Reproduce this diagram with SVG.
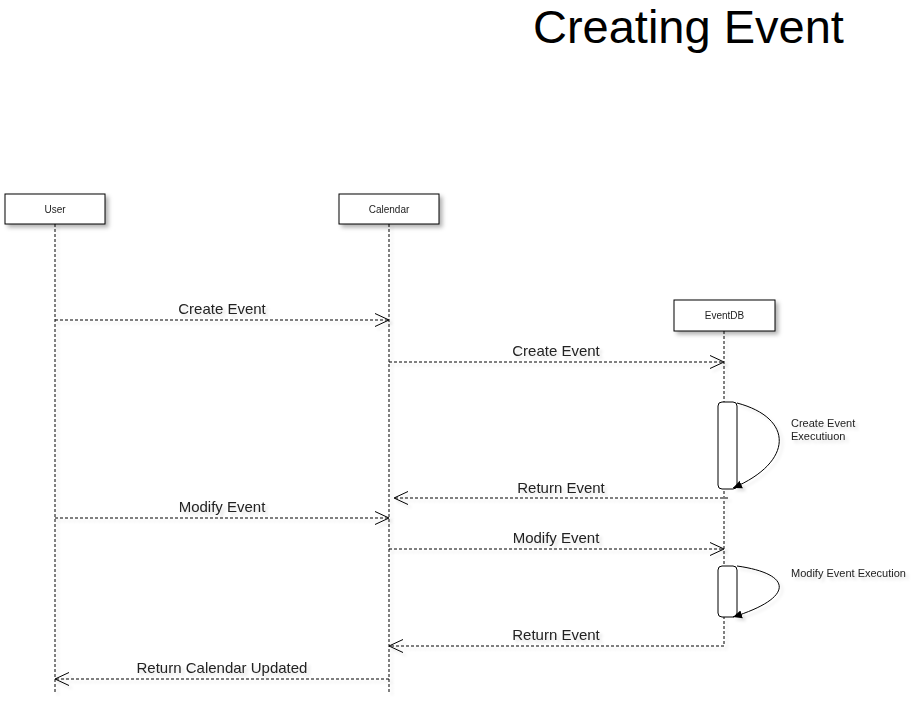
<svg xmlns="http://www.w3.org/2000/svg" width="912" height="702" viewBox="0 0 912 702">
<style>
text{font-family:"Liberation Sans",Arial,sans-serif;fill:#222}
.title{font-size:47px;fill:#000}
.box{fill:#fff;stroke:#000;stroke-width:1}
.bl{font-size:10px;text-anchor:middle}
.life{stroke:#000;stroke-width:1;stroke-dasharray:3 2;fill:none}
.msg{stroke:#000;stroke-width:1;stroke-dasharray:3 2;fill:none}
.head{stroke:#000;stroke-width:1;fill:none}
.ml{font-size:15px;text-anchor:middle}
.side{font-size:11px}
.act{fill:#fff;stroke:#000;stroke-width:1}
.loop{stroke:#000;stroke-width:1;fill:none}
</style>
<defs>
<filter id="sh" x="-20%" y="-20%" width="150%" height="180%">
<feDropShadow dx="3" dy="3" stdDeviation="2" flood-color="#000" flood-opacity="0.3"/>
</filter>
<filter id="lsh" x="-50%" y="-5%" width="300%" height="110%">
<feDropShadow dx="3" dy="3" stdDeviation="1.5" flood-color="#000" flood-opacity="0.12"/>
</filter>
<marker id="tri" markerWidth="10" markerHeight="10" refX="9" refY="5" orient="auto" markerUnits="userSpaceOnUse">
<path d="M0,1 L9,5 L0,9 Z" fill="#000"/>
</marker>
</defs>
<rect width="912" height="702" fill="#fff"/>
<text class="title" x="533" y="43">Creating Event</text>

<g id="lifelines" filter="url(#lsh)">
<line class="life" x1="55" y1="224" x2="55" y2="692"/>
<line class="life" x1="389" y1="224" x2="389" y2="692"/>
<line class="life" x1="724" y1="331" x2="724" y2="646"/>
</g>

<g id="user" filter="url(#sh)">
<rect class="box" x="5" y="194" width="100" height="30"/>
<text class="bl" x="55" y="212.5">User</text>
</g>
<g id="calendar" filter="url(#sh)">
<rect class="box" x="339" y="194" width="100" height="30"/>
<text class="bl" x="389" y="212.5">Calendar</text>
</g>
<g id="eventdb" filter="url(#sh)">
<rect class="box" x="674" y="300" width="101" height="31"/>
<text class="bl" x="724.5" y="319">EventDB</text>
</g>

<g id="activation1">
<rect class="act" x="718" y="402" width="19" height="87" rx="4"/>
</g>
<g id="activation2">
<rect class="act" x="718" y="566" width="19" height="51" rx="4"/>
</g>

<g id="connectors" filter="url(#lsh)">
<line class="msg" x1="55" y1="320" x2="389" y2="320"/>
<path class="head" d="M375,313.5 L389,320 L375,326.5"/>
<text class="ml" x="222" y="314">Create Event</text>

<line class="msg" x1="389" y1="362" x2="724" y2="362"/>
<path class="head" d="M710,355.5 L724,362 L710,368.5"/>
<text class="ml" x="556" y="356">Create Event</text>

<path class="loop" d="M737,403 C794,418 794,462 733,488" marker-end="url(#tri)"/>
<text class="side" x="791" y="427">Create Event</text>
<text class="side" x="791" y="440">Executiuon</text>

<line class="msg" x1="728" y1="498" x2="394" y2="498"/>
<path class="head" d="M408,491.5 L394,498 L408,504.5"/>
<text class="ml" x="561" y="493">Return Event</text>

<line class="msg" x1="55" y1="518" x2="389" y2="518"/>
<path class="head" d="M375,511.5 L389,518 L375,524.5"/>
<text class="ml" x="222" y="512">Modify Event</text>

<line class="msg" x1="389" y1="549" x2="724" y2="549"/>
<path class="head" d="M710,542.5 L724,549 L710,555.5"/>
<text class="ml" x="556" y="543">Modify Event</text>

<path class="loop" d="M737,566 C794,574 794,598 733,617" marker-end="url(#tri)"/>
<text class="side" x="791" y="577">Modify Event Execution</text>

<line class="msg" x1="724" y1="646" x2="389" y2="646"/>
<path class="head" d="M403,639.5 L389,646 L403,652.5"/>
<text class="ml" x="556" y="640">Return Event</text>

<line class="msg" x1="389" y1="679" x2="55" y2="679"/>
<path class="head" d="M69,672.5 L55,679 L69,685.5"/>
<text class="ml" x="222" y="673">Return Calendar Updated</text>
</g>
</svg>
